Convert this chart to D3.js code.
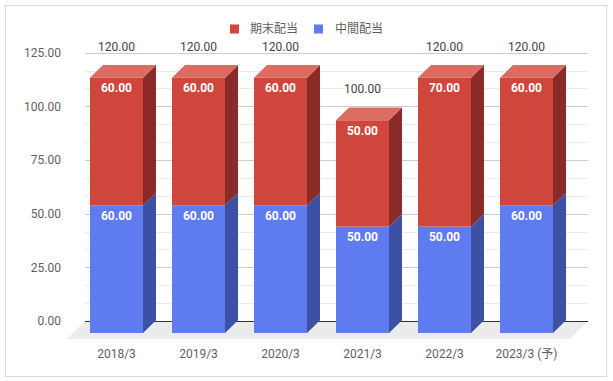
<!DOCTYPE html>
<html><head><meta charset="utf-8">
<script src="https://cdn.jsdelivr.net/npm/d3@7"></script>
<style>
html,body{margin:0;padding:0;background:#fff;}
svg{display:block;font-family:Roboto,"Noto Sans CJK JP",sans-serif;}
</style></head>
<body><svg id="c" width="613" height="381"></svg>
<script>
const categories = ["2018/3","2019/3","2020/3","2021/3","2022/3","2023/3 (予)"];
const interim = [60,60,60,50,50,60];      // 中間配当
const yearEnd = [60,60,60,50,70,60];      // 期末配当
const totals  = [120,120,120,100,120,120];
const yTicks  = [0,25,50,75,100,125];
const seriesNames = ["期末配当","中間配当"];

const colors = {
  red:  {front:"#d0463c", top:"#dc6b62", side:"#8b2b27"},
  blue: {front:"#5f7bf0", top:"#8a9ff4", side:"#3c51a4"}
};
const svg = d3.select("#c");
const depth = {dx:13, dy:-12.7};
const floorD = {dx:-18, dy:18};

// back-wall scale (grid) and front-face scale (bars)
const yBack = d3.scaleLinear().domain([0,125]).range([321,52.7]);
const yFront = d3.scaleLinear().domain([0,120]).range([333,77.7]);
const x = d3.scaleBand().domain(categories).range([75.5,567.5]).paddingInner(29/82).paddingOuter(29/164);
const wallX = [85,588];

// border
svg.append("rect").attr("x",5.5).attr("y",5.5).attr("width",601).attr("height",371)
  .attr("fill","#fff").attr("stroke","#dadada");

// floor
svg.append("polygon")
  .attr("points",[[wallX[0],yBack(0)],[wallX[1],yBack(0)],[wallX[1]+floorD.dx,yBack(0)+floorD.dy],[wallX[0]+floorD.dx,yBack(0)+floorD.dy]].join(" "))
  .attr("fill","#ebebeb");

// minor gridlines
const minor = [];
for (let i=0;i<yTicks.length-1;i++){ const s=(yTicks[i+1]-yTicks[i])/3; minor.push(yTicks[i]+s, yTicks[i]+2*s); }
svg.append("g").selectAll("line").data(minor).join("line")
  .attr("x1",wallX[0]).attr("x2",wallX[1]).attr("y1",d=>Math.round(yBack(d))+0.5).attr("y2",d=>Math.round(yBack(d))+0.5)
  .attr("stroke","#ebebeb");
// major gridlines
svg.append("g").selectAll("line").data(yTicks).join("line")
  .attr("x1",wallX[0]).attr("x2",wallX[1]).attr("y1",d=>Math.round(yBack(d))+0.5).attr("y2",d=>Math.round(yBack(d))+0.5)
  .attr("stroke",d=>d===0?"#333":"#cccccc");

// y axis labels
svg.append("g").selectAll("text").data(yTicks).join("text")
  .attr("x",61).attr("y",d=>yBack(d)).attr("dy","0.35em").attr("text-anchor","end")
  .attr("font-size",12).attr("fill","#5f5f5f").text(d=>d.toFixed(2));

// bars
const g = svg.append("g");
categories.forEach((c,i)=>{
  const xl = x(c), xr = x(c)+x.bandwidth();
  const segs = [
    {v0:0, v1:interim[i], col:colors.blue, val:interim[i]},
    {v0:interim[i], v1:interim[i]+yearEnd[i], col:colors.red, val:yearEnd[i]}
  ];
  segs.forEach((s,k)=>{
    const yt = yFront(s.v1), yb = yFront(s.v0);
    // side
    g.append("polygon").attr("points",[[xr,yt],[xr+depth.dx,yt+depth.dy],[xr+depth.dx,yb+depth.dy],[xr,yb]].join(" "))
      .attr("fill",s.col.side);
    // front
    g.append("rect").attr("x",xl).attr("y",yt).attr("width",xr-xl).attr("height",yb-yt).attr("fill",s.col.front);
    if (k===segs.length-1){
      g.append("polygon").attr("points",[[xl,yt],[xl+depth.dx,yt+depth.dy],[xr+depth.dx,yt+depth.dy],[xr,yt]].join(" "))
        .attr("fill",s.col.top);
    }
    g.append("text").attr("x",(xl+xr)/2).attr("y",yt+14.3).attr("text-anchor","middle")
      .attr("font-size",12).attr("font-weight","bold").attr("fill","#fff").text(s.val.toFixed(2));
  });
  // total annotation
  g.append("text").attr("x",(xl+xr)/2).attr("y",yFront(totals[i])-27.2).attr("text-anchor","middle")
    .attr("font-size",12).attr("fill","#444").attr("stroke","#fff").attr("stroke-width",3)
    .attr("paint-order","stroke").text(totals[i].toFixed(2));
  // x labels
  svg.append("text").attr("x",(xl+xr)/2).attr("y",357.5).attr("text-anchor","middle")
    .attr("font-size",12).attr("fill","#5f5f5f").text(c);
});

// legend
const legend = [
  {name:seriesNames[0], color:colors.red.front, sx:230, tx:250},
  {name:seriesNames[1], color:colors.blue.front, sx:314, tx:335}
];
const lg = svg.append("g");
legend.forEach(l=>{
  lg.append("rect").attr("x",l.sx).attr("y",24.5).attr("width",9).attr("height",9).attr("fill",l.color);
  lg.append("text").attr("x",l.tx).attr("y",29).attr("dy","0.35em").attr("font-size",12)
    .attr("font-family","'Noto Sans CJK JP',sans-serif").attr("fill","#5f5f5f").text(l.name);
});
</script></body></html>
